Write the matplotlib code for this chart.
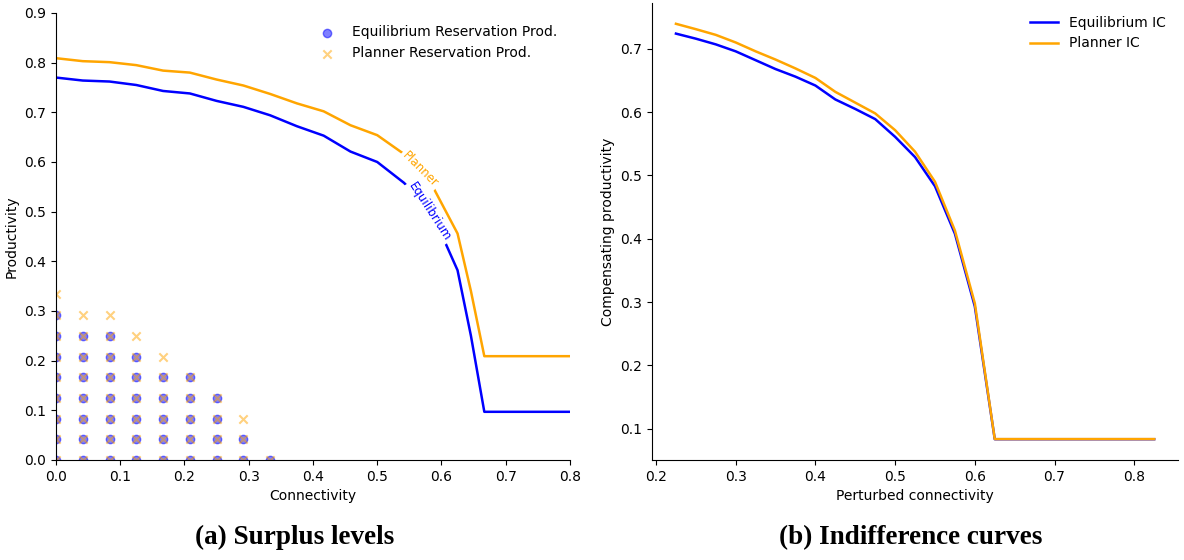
import numpy as np
import matplotlib
matplotlib.use("Agg")
import matplotlib.pyplot as plt

# ---- panel (a): surplus levels ----
conn = np.arange(21) / 24.0
eq_res = [0.770, 0.764, 0.762, 0.755, 0.743, 0.738, 0.723, 0.711, 0.694, 0.672,
          0.653, 0.621, 0.600, 0.558, 0.503, 0.382, 0.097, 0.097, 0.097, 0.097, 0.097]
pl_res = [0.809, 0.803, 0.801, 0.795, 0.784, 0.780, 0.766, 0.754, 0.737, 0.718,
          0.702, 0.674, 0.654, 0.616, 0.558, 0.456, 0.209, 0.209, 0.209, 0.209, 0.209]
conn_mid = 31 / 48.0
eq_mid = 0.250
pl_mid = 0.340

# grid points (connectivity index, max productivity index), step 1/24
eq_cols = [0, 1, 2, 3, 4, 5, 6, 7, 8]
eq_top = [7, 6, 6, 5, 4, 4, 3, 1, 0]
pl_top = [8, 7, 7, 6, 5, 4, 3, 2, 0]

# ---- panel (b): indifference curves ----
pert = [0.225, 0.25, 0.275, 0.3, 0.325, 0.35, 0.375, 0.4, 0.425, 0.45, 0.475, 0.5,
        0.525, 0.55, 0.575, 0.6, 0.625, 0.65, 0.675, 0.7, 0.725, 0.75, 0.775, 0.8, 0.825]
eq_ic = [0.724, 0.716, 0.707, 0.696, 0.682, 0.668, 0.656, 0.642, 0.620, 0.605, 0.589, 0.561,
         0.529, 0.483, 0.408, 0.293, 0.0835, 0.0835, 0.0835, 0.0835, 0.0835, 0.0835, 0.0835, 0.0835, 0.0835]
pl_ic = [0.7395, 0.731, 0.722, 0.710, 0.696, 0.683, 0.669, 0.654, 0.632, 0.615, 0.598, 0.5715,
         0.5375, 0.490, 0.413, 0.298, 0.0837, 0.0837, 0.0837, 0.0837, 0.0837, 0.0837, 0.0837, 0.0837, 0.0837]


def grid_pts(cols, tops):
    xs, ys = [], []
    for c, t in zip(cols, tops):
        for k in range(t + 1):
            xs.append(c / 24.0)
            ys.append(k / 24.0)
    return xs, ys


def insert_mid(x, y, xm, ym):
    x = list(x); y = list(y)
    i = int(np.searchsorted(x, xm))
    x.insert(i, xm); y.insert(i, ym)
    return x, y


fig = plt.figure(figsize=(11.84, 5.6), dpi=100)
ax1 = fig.add_axes([0.0473, 0.1786, 0.4341, 0.7982])
ax2 = fig.add_axes([0.5507, 0.1786, 0.4443, 0.8160])

# (a)
ex, ey = grid_pts(eq_cols, eq_top)
px, py = grid_pts(eq_cols, pl_top)
ax1.scatter(ex, ey, color="blue", alpha=0.5, marker="o", label="Equilibrium Reservation Prod.")
ax1.scatter(px, py, color="orange", alpha=0.5, marker="x", label="Planner Reservation Prod.")
x_eq, y_eq = insert_mid(conn, eq_res, conn_mid, eq_mid)
x_pl, y_pl = insert_mid(conn, pl_res, conn_mid, pl_mid)
ax1.plot(x_eq, y_eq, color="blue", lw=1.8)
ax1.plot(x_pl, y_pl, color="orange", lw=1.8)
ax1.text(0.5666, 0.585, "Planner", color="orange", fontsize=8.5, rotation=-45,
         ha="center", va="center", rotation_mode="anchor",
         bbox=dict(facecolor="white", edgecolor="none", pad=1.5))
ax1.text(0.582, 0.500, "Equilibrium", color="blue", fontsize=8.5, rotation=-57,
         ha="center", va="center", rotation_mode="anchor",
         bbox=dict(facecolor="white", edgecolor="none", pad=1.5))
ax1.set_xlim(0, 0.8)
ax1.set_ylim(0, 0.9)
ax1.set_xlabel("Connectivity")
ax1.set_ylabel("Productivity")
ax1.legend(loc="upper right", frameon=False)
ax1.spines["top"].set_visible(False)
ax1.spines["right"].set_visible(False)

# (b)
ax2.plot(pert, eq_ic, color="blue", lw=1.8, label="Equilibrium IC")
ax2.plot(pert, pl_ic, color="orange", lw=1.8, label="Planner IC")
ax2.set_xlabel("Perturbed connectivity")
ax2.set_ylabel("Compensating productivity")
ax2.legend(loc="upper right", frameon=False)
ax2.spines["top"].set_visible(False)
ax2.spines["right"].set_visible(False)

fig.text(0.249, 0.04, "(a) Surplus levels", fontsize=19.5, fontweight="bold",
         family="Liberation Serif", ha="center", va="center")
fig.text(0.769, 0.04, "(b) Indifference curves", fontsize=19.5, fontweight="bold",
         family="Liberation Serif", ha="center", va="center")

fig.savefig("out.png", dpi=100)
